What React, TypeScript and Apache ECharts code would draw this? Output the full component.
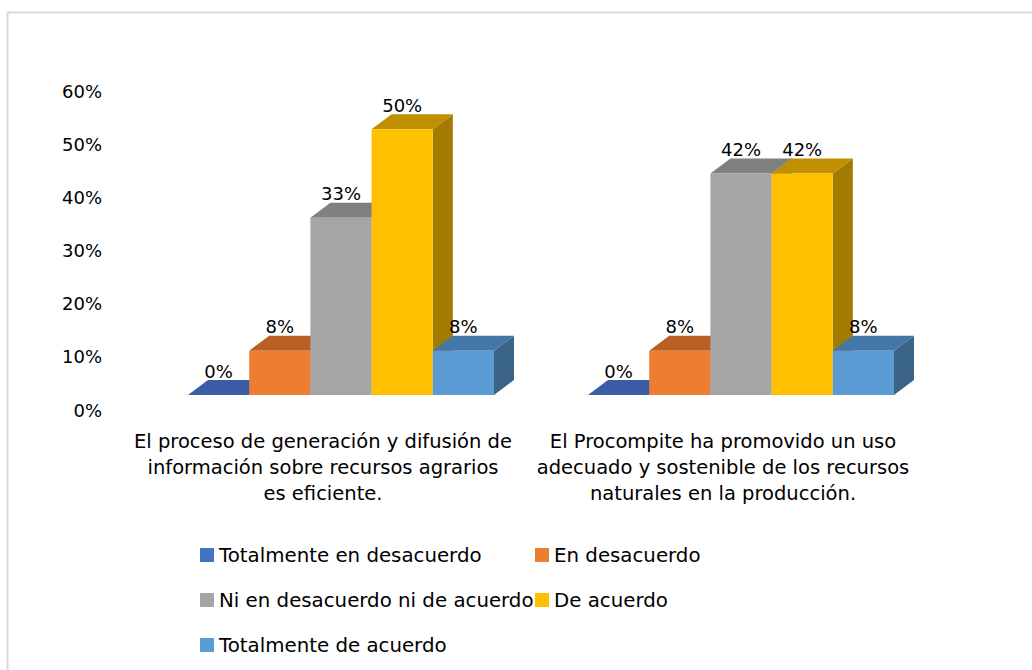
import React, { useEffect, useRef } from "react";
import * as echarts from "echarts";

const categories = [
  "El proceso de generación y difusión de\ninformación sobre recursos agrarios\nes eficiente.",
  "El Procompite ha promovido un uso\nadecuado y sostenible de los recursos\nnaturales en la producción.",
];

const seriesNames = [
  "Totalmente en desacuerdo",
  "En desacuerdo",
  "Ni en desacuerdo ni de acuerdo",
  "De acuerdo",
  "Totalmente de acuerdo",
];

const totalmenteEnDesacuerdo = [0, 0];
const enDesacuerdo = [0.0833, 0.0833];
const niEnDesacuerdoNiDeAcuerdo = [0.3333, 0.4167];
const deAcuerdo = [0.5, 0.4167];
const totalmenteDeAcuerdo = [0.0833, 0.0833];

const seriesValues = [
  totalmenteEnDesacuerdo,
  enDesacuerdo,
  niEnDesacuerdoNiDeAcuerdo,
  deAcuerdo,
  totalmenteDeAcuerdo,
];

const yMin = 0;
const yMax = 0.6;
const yInterval = 0.1;

// front / top / side face colours
const frontColors = ["#4472C4", "#ED7D31", "#A5A5A5", "#FFC000", "#5B9BD5"];
const topColors = ["#3A5DA6", "#B95F23", "#808080", "#C09000", "#4577A6"];
const sideColors = ["#2F4E8C", "#9E511D", "#6E6E6E", "#A27B00", "#3B6588"];

const legendPos = [
  { left: 200, top: 545 },
  { left: 535, top: 545 },
  { left: 200, top: 590 },
  { left: 535, top: 590 },
  { left: 200, top: 635 },
];

const FONT = "DejaVu Sans";

export default function App() {
  const ref = useRef<HTMLDivElement>(null);

  useEffect(() => {
    if (!ref.current) return;
    const chart = echarts.init(ref.current, undefined, { renderer: "svg" });

    const makeRender = (idx: number) => (params: any, api: any) => {
      const cat = api.value(0);
      const val = api.value(1);
      const base = api.coord([cat, 0]);
      const topP = api.coord([cat, val]);
      const band = api.size([1, 0])[0];
      const bw = band * 0.153;
      const groupW = bw * 5;
      const offset = band * 0.045;
      const lift = 15;
      const dx = 20;
      const dy = -15;
      const x0 = base[0] + offset - groupW / 2 + idx * bw;
      const x1 = x0 + bw;
      const yBase = base[1] - lift;
      const yTop = topP[1] - lift;
      const label = Math.round(val * 100) + "%";
      return {
        type: "group",
        children: [
          {
            type: "polygon",
            shape: {
              points: [
                [x1, yTop],
                [x1 + dx, yTop + dy],
                [x1 + dx, yBase + dy],
                [x1, yBase],
              ],
            },
            style: { fill: sideColors[idx] },
          },
          {
            type: "polygon",
            shape: {
              points: [
                [x0, yTop],
                [x1, yTop],
                [x1 + dx, yTop + dy],
                [x0 + dx, yTop + dy],
              ],
            },
            style: { fill: topColors[idx] },
          },
          {
            type: "rect",
            shape: { x: x0, y: yTop, width: bw, height: yBase - yTop },
            style: { fill: frontColors[idx] },
          },
          {
            type: "text",
            z2: 100,
            style: {
              text: label,
              x: (x0 + x1) / 2,
              y: yTop - 24,
              align: "center",
              verticalAlign: "middle",
              fill: "#000",
              fontSize: 18,
              fontFamily: FONT,
            },
          },
        ],
      };
    };

    const option: any = {
      animation: false,
      backgroundColor: "#fff",
      graphic: [
        {
          type: "rect",
          shape: { x: 7.5, y: 12.5, width: 1100, height: 700 },
          style: { fill: "none", stroke: "#D9D9D9", lineWidth: 2 },
          silent: true,
          z: -1,
        },
      ],
      grid: { left: 123, right: 109, top: 91, bottom: 260 },
      xAxis: {
        type: "category",
        data: categories,
        axisLine: { show: false },
        axisTick: { show: false },
        splitLine: { show: false },
        axisLabel: {
          interval: 0,
          margin: 18,
          color: "#000",
          fontSize: 19.5,
          fontFamily: FONT,
          lineHeight: 26,
          align: "center",
        },
      },
      yAxis: {
        type: "value",
        min: yMin,
        max: yMax,
        interval: yInterval,
        axisLine: { show: false },
        axisTick: { show: false },
        splitLine: { show: false },
        axisLabel: {
          margin: 21,
          color: "#000",
          fontSize: 18,
          fontFamily: FONT,
          formatter: (v: number) => Math.round(v * 100) + "%",
        },
      },
      legend: seriesNames.map((name, i) => ({
        data: [name],
        left: legendPos[i].left,
        top: legendPos[i].top,
        padding: 0,
        icon: "rect",
        itemWidth: 14,
        itemHeight: 14,
        itemGap: 0,
        textStyle: {
          color: "#000",
          fontSize: 19.8,
          fontFamily: FONT,
          lineHeight: 20,
        },
      })),
      series: seriesNames.map((name, i) => ({
        type: "custom",
        name,
        itemStyle: { color: frontColors[i] },
        renderItem: makeRender(i),
        clip: false,
        data: seriesValues[i].map((v, c) => [c, v]),
      })),
    };

    chart.setOption(option);
    return () => chart.dispose();
  }, []);

  return (
    <div
      ref={ref}
      style={{ position: "fixed", left: 0, top: 0, width: 1032, height: 670 }}
    />
  );
}
